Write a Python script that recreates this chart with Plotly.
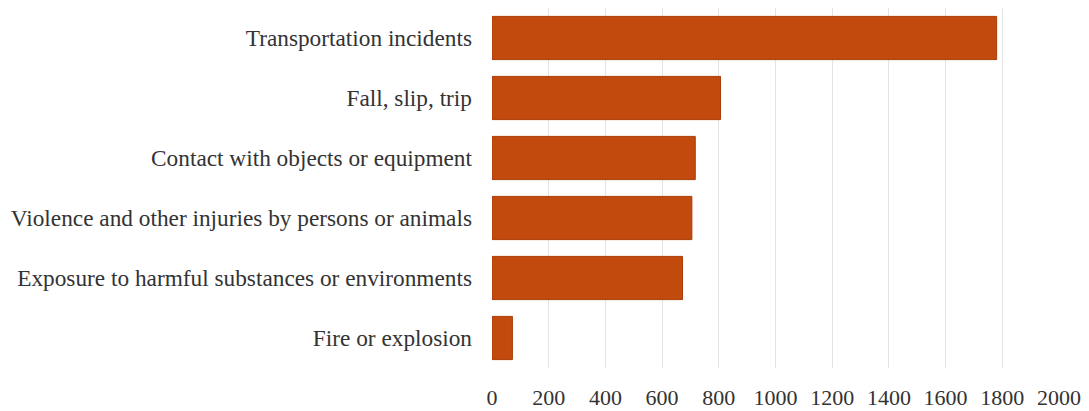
import plotly.graph_objects as go

categories = [
    "Transportation incidents",
    "Fall, slip, trip",
    "Contact with objects or equipment",
    "Violence and other injuries by persons or animals",
    "Exposure to harmful substances or environments",
    "Fire or explosion",
]
values = [1780, 806, 717, 705, 672, 72]
x_ticks = [0, 200, 400, 600, 800, 1000, 1200, 1400, 1600, 1800, 2000]

FONT = "Liberation Serif"
TEXT = "#333333"

fig = go.Figure(
    go.Bar(
        y=categories,
        x=values,
        orientation="h",
        marker=dict(color="#C24A0C", line=dict(color="#A83E0A", width=1)),
        hoverinfo="x+y",
    )
)

# page body has an 8px default margin, so the figure is offset by (8, 8)
fig.update_layout(
    width=1081,
    height=403,
    margin=dict(l=484, r=30, t=0, b=43, autoexpand=False),
    paper_bgcolor="white",
    plot_bgcolor="white",
    bargap=0.28,
    showlegend=False,
    font=dict(family=FONT, size=22, color=TEXT),
)
fig.update_xaxes(
    range=[0, 2000],
    tickvals=x_ticks,
    ticktext=[str(t) for t in x_ticks],
    showgrid=True,
    gridcolor="#E4E4E4",
    gridwidth=1,
    zeroline=False,
    showline=False,
    ticks="",
    automargin=False,
    ticklabelstandoff=14,
    tickfont=dict(family=FONT, size=22, color=TEXT),
)
fig.update_yaxes(
    categoryorder="array",
    categoryarray=categories[::-1],
    showgrid=False,
    zeroline=False,
    showline=False,
    ticks="",
    automargin=False,
    ticklabelstandoff=19,
    tickfont=dict(family=FONT, size=23.3, color=TEXT),
)

fig.write_html("out.html")
